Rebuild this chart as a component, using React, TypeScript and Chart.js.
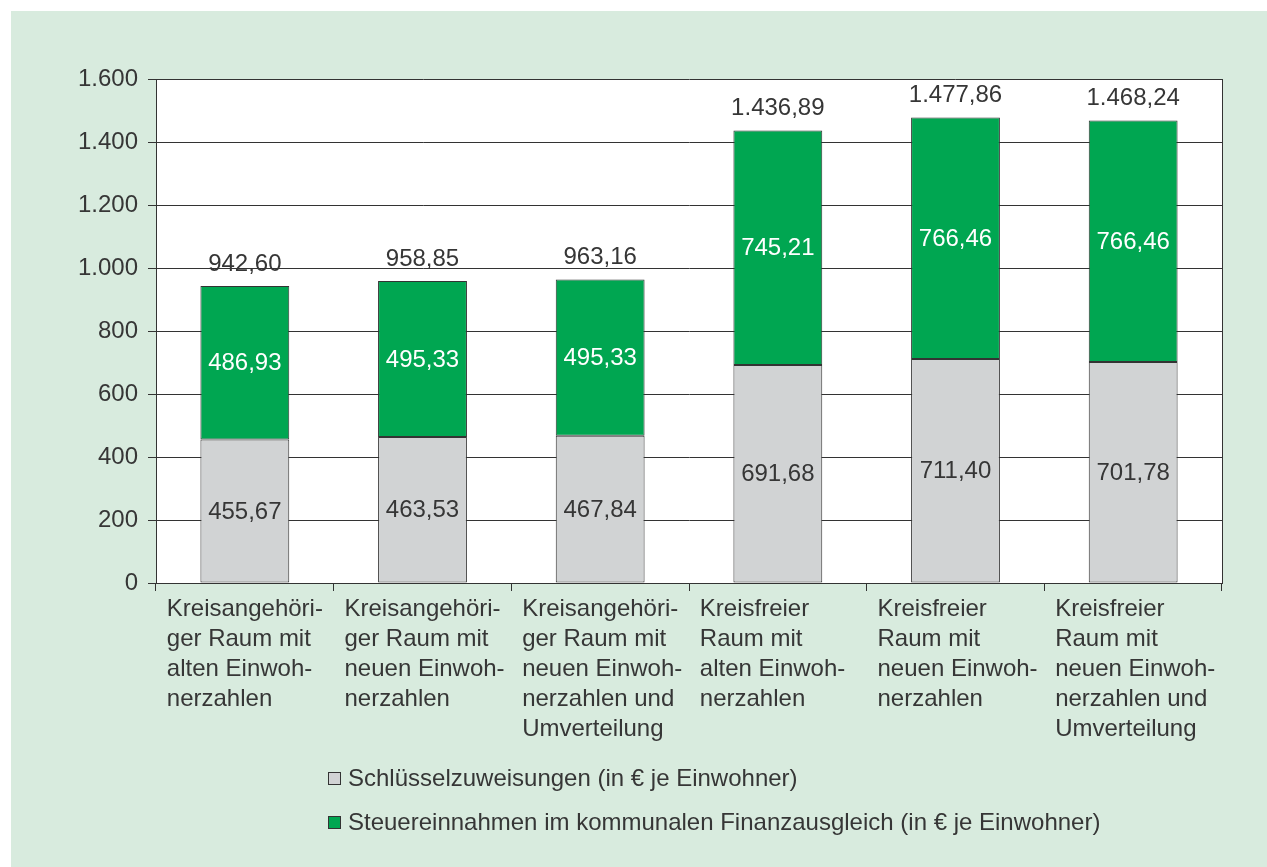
import React, { useEffect, useRef } from "react";
import { Chart, registerables } from "chart.js";

Chart.register(...registerables);

const categories: string[][] = [
  ["Kreisangehöri-", "ger Raum mit", "alten Einwoh-", "nerzahlen"],
  ["Kreisangehöri-", "ger Raum mit", "neuen Einwoh-", "nerzahlen"],
  ["Kreisangehöri-", "ger Raum mit", "neuen Einwoh-", "nerzahlen und", "Umverteilung"],
  ["Kreisfreier", "Raum mit", "alten Einwoh-", "nerzahlen"],
  ["Kreisfreier", "Raum mit", "neuen Einwoh-", "nerzahlen"],
  ["Kreisfreier", "Raum mit", "neuen Einwoh-", "nerzahlen und", "Umverteilung"],
];
const schluesselzuweisungen = [455.67, 463.53, 467.84, 691.68, 711.4, 701.78];
const steuereinnahmen = [486.93, 495.33, 495.33, 745.21, 766.46, 766.46];
const totals = [942.6, 958.85, 963.16, 1436.89, 1477.86, 1468.24];
const seriesNames = [
  "Schlüsselzuweisungen (in € je Einwohner)",
  "Steuereinnahmen im kommunalen Finanzausgleich (in € je Einwohner)",
];
const seriesColors = ["#d1d3d4", "#00a651"];
const seriesLabelColors = ["#363636", "#ffffff"];
const yMin = 0;
const yMax = 1600;
const yStep = 200;

const FONT = "'Liberation Sans', Arial, sans-serif";
const FS = 24;
const TEXT = "#363636";
const LINE = "#333333";
const BG = "#d8ebde";

function fmt(v: number, dec: number): string {
  const s = v.toFixed(dec);
  const [i, d] = s.split(".");
  const ii = i.replace(/\B(?=(\d{3})+(?!\d))/g, ".");
  return d ? ii + "," + d : ii;
}

const plotBgAndBorder = {
  id: "plotBgAndBorder",
  beforeDraw(chart: any) {
    const { ctx, chartArea } = chart;
    ctx.save();
    ctx.fillStyle = "#ffffff";
    ctx.fillRect(chartArea.left, chartArea.top, chartArea.right - chartArea.left, chartArea.bottom - chartArea.top);
    ctx.restore();
  },
  afterDraw(chart: any) {
    const { ctx, chartArea } = chart;
    ctx.save();
    ctx.strokeStyle = LINE;
    ctx.lineWidth = 1;
    ctx.beginPath();
    const x = Math.round(chartArea.right) + 0.5;
    ctx.moveTo(x, chartArea.top);
    ctx.lineTo(x, chartArea.bottom);
    ctx.stroke();
    ctx.restore();
  },
};

const valueLabels = {
  id: "valueLabels",
  afterDatasetsDraw(chart: any) {
    const { ctx } = chart;
    ctx.save();
    ctx.font = `${FS}px ${FONT}`;
    ctx.textAlign = "center";
    ctx.textBaseline = "middle";
    const n = chart.data.datasets.length;
    for (let d = 0; d < n; d++) {
      const meta = chart.getDatasetMeta(d);
      const vals = chart.data.datasets[d].data as number[];
      meta.data.forEach((bar: any, i: number) => {
        ctx.fillStyle = seriesLabelColors[d];
        ctx.fillText(fmt(vals[i], 2), bar.x, (bar.y + bar.base) / 2 + 1);
        if (d === n - 1) {
          ctx.fillStyle = TEXT;
          ctx.fillText(fmt(totals[i], 2), bar.x, bar.y - 22);
        }
      });
    }
    ctx.restore();
  },
};

export default function App() {
  const ref = useRef<HTMLCanvasElement | null>(null);
  useEffect(() => {
    if (!ref.current) return;
    const chart = new Chart(ref.current, {
      type: "bar",
      data: {
        labels: categories,
        datasets: [
          {
            label: seriesNames[0],
            data: schluesselzuweisungen,
            backgroundColor: seriesColors[0],
            borderColor: LINE,
            borderWidth: 1,
            borderSkipped: false,
            barPercentage: 0.5,
            categoryPercentage: 1,
          },
          {
            label: seriesNames[1],
            data: steuereinnahmen,
            backgroundColor: seriesColors[1],
            borderColor: LINE,
            borderWidth: 1,
            borderSkipped: false,
            barPercentage: 0.5,
            categoryPercentage: 1,
          },
        ],
      },
      options: {
        responsive: false,
        animation: false,
        devicePixelRatio: 1,
        layout: { padding: { top: 68, right: 45, left: 0, bottom: 0 } },
        plugins: {
          legend: { display: false },
          tooltip: { enabled: false },
          title: { display: false },
        },
        scales: {
          x: {
            stacked: true,
            grid: {
              offset: true,
              drawOnChartArea: false,
              drawTicks: true,
              tickLength: 8,
              color: LINE,
              lineWidth: 1,
            },
            border: { color: LINE, width: 1 },
            ticks: {
              align: "start",
              labelOffset: -78,
              maxRotation: 0,
              minRotation: 0,
              autoSkip: false,
              padding: 3,
              color: TEXT,
              font: { family: FONT, size: FS, lineHeight: 30 / FS },
            },
            afterFit(scale: any) {
              scale.height = 856 - 572;
              scale.paddingLeft = 0;
              scale.paddingRight = 0;
            },
          },
          y: {
            stacked: true,
            min: yMin,
            max: yMax,
            grid: { color: LINE, lineWidth: 1, tickLength: 8, drawTicks: true },
            border: { color: LINE, width: 1 },
            ticks: {
              stepSize: yStep,
              padding: 10,
              color: TEXT,
              font: { family: FONT, size: FS },
              callback: (v: any) => fmt(Number(v), 0),
            },
            afterFit(scale: any) {
              scale.width = 145;
            },
          },
        },
      },
      plugins: [plotBgAndBorder, valueLabels],
    } as any);
    return () => chart.destroy();
  }, []);

  return (
    <div
      style={{
        position: "absolute",
        left: 11,
        top: 11,
        width: 1256,
        height: 856,
        background: BG,
        fontFamily: FONT,
        color: TEXT,
      }}
    >
      <canvas ref={ref} width={1256} height={856} style={{ display: "block" }} />
      <div style={{ position: "absolute", left: 317, top: 745 }}>
        {seriesNames.map((name, i) => (
          <div
            key={name}
            style={{ display: "flex", alignItems: "center", height: 44, fontSize: FS, whiteSpace: "nowrap" }}
          >
            <span
              style={{
                display: "inline-block",
                width: 11,
                height: 11,
                background: seriesColors[i],
                border: `1px solid ${LINE}`,
                marginRight: 7,
              }}
            />
            <span>{name}</span>
          </div>
        ))}
      </div>
    </div>
  );
}
